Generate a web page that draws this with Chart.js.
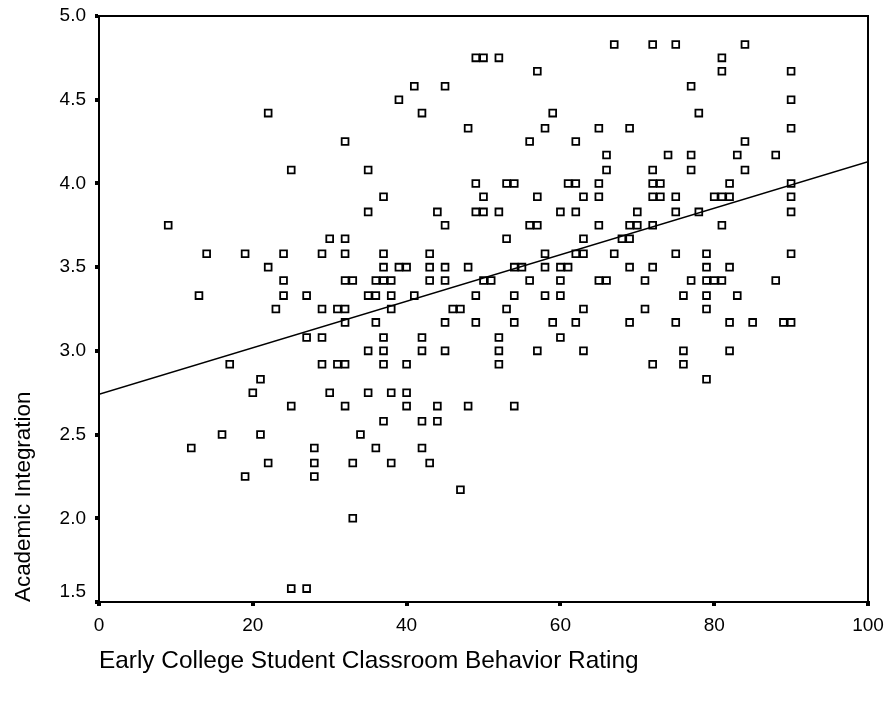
<!DOCTYPE html>
<html>
<head>
<meta charset="utf-8">
<script src="https://cdn.jsdelivr.net/npm/chart.js@4"></script>
<style>
  html, body { margin: 0; padding: 0; background: #fff; }
  #wrap { width: 887px; height: 704px; }
</style>
</head>
<body>
<div id="wrap"><canvas id="scatterChart" width="887" height="704"></canvas></div>
<script>
// Academic Integration score levels (y), and the behaviour ratings (x) seen at each level
const integrationLevels = [
  4.83, 4.75, 4.67, 4.58, 4.5, 4.42, 4.33, 4.25, 4.17, 4.08,
  4.0, 3.92, 3.83, 3.75, 3.67, 3.58, 3.5, 3.42, 3.33, 3.25,
  3.17, 3.08, 3.0, 2.92, 2.83, 2.75, 2.67, 2.58, 2.5, 2.42,
  2.33, 2.25, 2.17, 2.0, 1.58
];
const ratingsByLevel = [
  [67, 72, 75, 84],
  [49, 50, 52, 81],
  [57, 81, 90],
  [41, 45, 77],
  [39, 90],
  [22, 42, 59, 78],
  [48, 58, 65, 69, 90],
  [32, 56, 62, 84],
  [66, 74, 77, 83, 88],
  [25, 35, 66, 72, 77, 84],
  [49, 53, 54, 61, 62, 65, 72, 73, 82, 90],
  [37, 50, 57, 63, 65, 72, 73, 75, 80, 81, 82, 90],
  [35, 44, 49, 50, 52, 60, 62, 70, 75, 78, 90],
  [9, 45, 56, 57, 65, 69, 70, 72, 81],
  [30, 32, 53, 63, 68, 69],
  [14, 19, 24, 29, 32, 37, 43, 58, 62, 63, 67, 75, 79, 90],
  [22, 37, 39, 40, 43, 45, 48, 54, 55, 58, 60, 61, 69, 72, 79, 82],
  [24, 32, 33, 36, 37, 38, 43, 45, 50, 51, 56, 60, 65, 66, 71, 77, 79, 80, 81, 88],
  [13, 24, 27, 35, 36, 38, 41, 49, 54, 58, 60, 76, 79, 83],
  [23, 29, 31, 32, 38, 46, 47, 53, 63, 71, 79],
  [32, 36, 45, 49, 54, 59, 62, 69, 75, 82, 85, 89, 90],
  [27, 29, 37, 42, 52, 60],
  [35, 37, 42, 45, 52, 57, 63, 76, 82],
  [17, 29, 31, 32, 37, 40, 52, 72, 76],
  [21, 79],
  [20, 30, 35, 38, 40],
  [25, 32, 40, 44, 48, 54],
  [37, 42, 44],
  [16, 21, 34],
  [12, 28, 36, 42],
  [22, 28, 33, 38, 43],
  [19, 28],
  [47],
  [33],
  [25, 27]
];

// fit line end points
const fitX = [0, 100];
const fitY = [2.74, 4.13];

// axis ticks
const xTicks = [0, 20, 40, 60, 80, 100];
const yTicks = [1.5, 2.0, 2.5, 3.0, 3.5, 4.0, 4.5, 5.0];

const xTitle = 'Early College Student Classroom Behavior Rating';
const yTitle = 'Academic Integration';

const FONT = '"Liberation Sans", Arial, sans-serif';

// build the point list for the scatter
const points = [];
integrationLevels.forEach((level, i) => {
  ratingsByLevel[i].forEach(r => points.push({ x: r, y: level }));
});
const fitPoints = fitX.map((x, i) => ({ x: x, y: fitY[i] }));

// box round the plot area
const frame = {
  id: 'frame',
  afterDatasetsDraw(chart) {
    const { ctx, chartArea } = chart;
    ctx.save();
    ctx.strokeStyle = '#000';
    ctx.lineWidth = 2;
    ctx.strokeRect(chartArea.left, chartArea.top, chartArea.right - chartArea.left, chartArea.bottom - chartArea.top);
    ctx.restore();
  }
};

// the bottom y label sits a bit higher than its tick, as in the original
const lowLabel = {
  id: 'lowLabel',
  afterDraw(chart) {
    const y = chart.scales.y;
    const ctx = chart.ctx;
    ctx.save();
    ctx.font = '19px ' + FONT;
    ctx.fillStyle = '#000';
    ctx.textAlign = 'right';
    ctx.textBaseline = 'middle';
    ctx.fillText(yTicks[0].toFixed(1), y.right - 13, y.getPixelForValue(yTicks[0]) - 10);
    ctx.restore();
  }
};

Chart.defaults.color = '#000';
Chart.defaults.font.family = FONT;

const ctx = document.getElementById('scatterChart').getContext('2d');
new Chart(ctx, {
  type: 'scatter',
  data: {
    datasets: [
      {
        label: yTitle,
        data: points,
        pointStyle: 'rect',
        pointRadius: 4.8,
        pointHoverRadius: 4.8,
        borderColor: '#000',
        borderWidth: 1.8,
        backgroundColor: 'rgba(0,0,0,0)'
      },
      {
        type: 'line',
        label: 'Fit',
        data: fitPoints,
        borderColor: '#000',
        borderWidth: 1.5,
        pointRadius: 0,
        fill: false
      }
    ]
  },
  options: {
    responsive: false,
    animation: false,
    devicePixelRatio: 1,
    layout: { padding: { top: 16, right: 19, left: 0, bottom: 0 } },
    plugins: {
      legend: { display: false },
      tooltip: { enabled: false }
    },
    scales: {
      x: {
        type: 'linear',
        min: 0,
        max: 100,
        afterBuildTicks: axis => { axis.ticks = xTicks.map(v => ({ value: v })); },
        afterFit: scale => {
          scale.height = 102;
          scale.paddingLeft = 0;
          scale.paddingRight = 0;
        },
        grid: { drawOnChartArea: false, drawTicks: true, tickLength: 4, lineWidth: 4, color: '#000' },
        border: { display: true, color: '#000', width: 2 },
        ticks: { font: { size: 19 }, padding: 8, maxRotation: 0 },
        title: {
          display: true,
          text: xTitle,
          align: 'start',
          font: { size: 24.4 },
          padding: { top: 0, bottom: 28 }
        }
      },
      y: {
        type: 'linear',
        min: 1.5,
        max: 5.0,
        afterBuildTicks: axis => { axis.ticks = yTicks.map(v => ({ value: v })); },
        afterFit: scale => {
          scale.width = 99;
          scale.paddingTop = 0;
          scale.paddingBottom = 0;
        },
        grid: { drawOnChartArea: false, drawTicks: true, tickLength: 4, lineWidth: 4, color: '#000' },
        border: { display: true, color: '#000', width: 2 },
        ticks: {
          font: { size: 19 },
          padding: 9,
          callback: v => (v === yTicks[0] ? '' : v.toFixed(1))
        },
        title: {
          display: true,
          text: yTitle,
          align: 'start',
          font: { size: 22.4 },
          padding: { top: 10, bottom: 0 }
        }
      }
    }
  },
  plugins: [frame, lowLabel]
});
</script>
</body>
</html>
